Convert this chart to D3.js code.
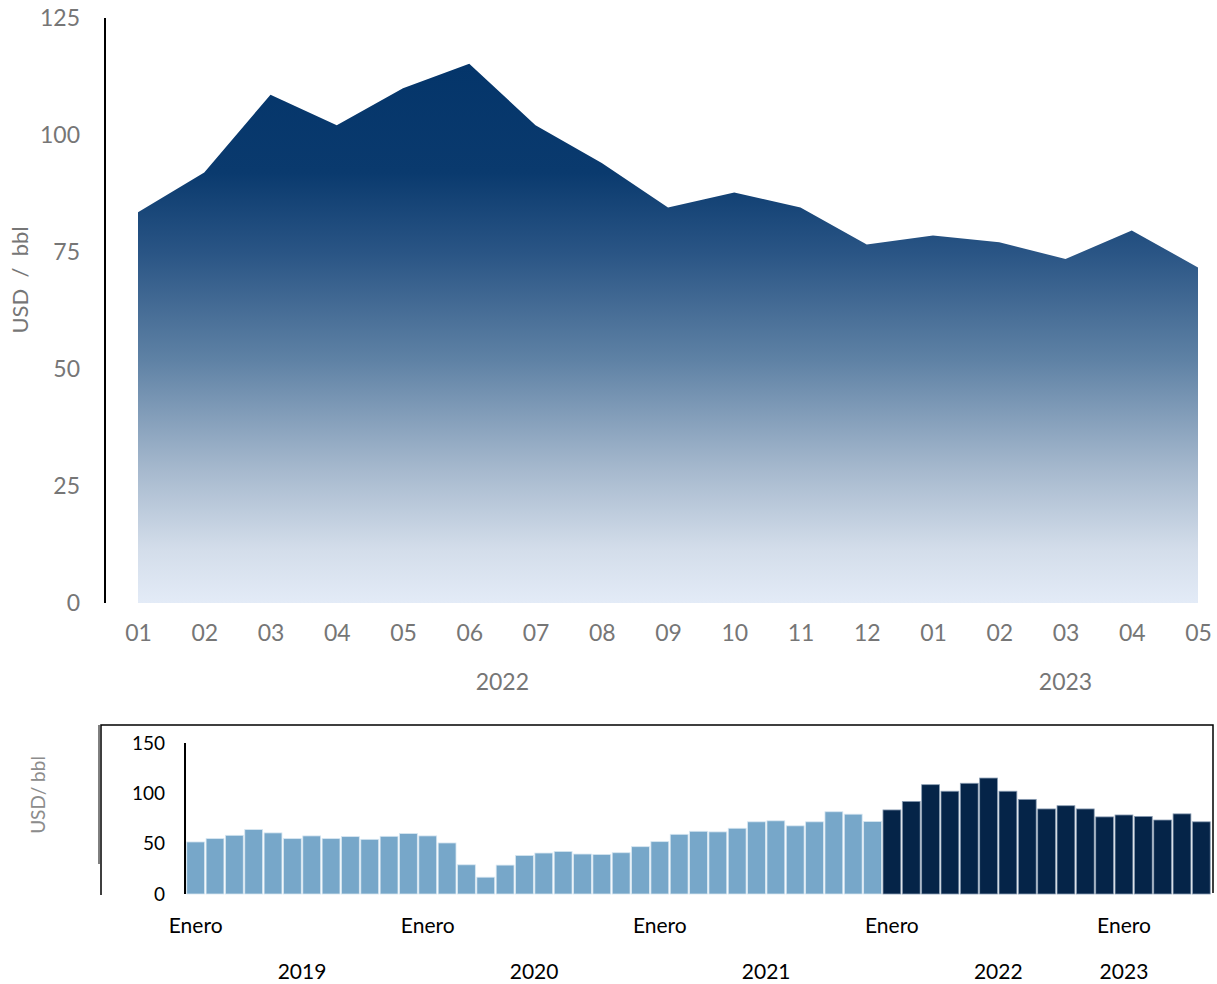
<!DOCTYPE html>
<html>
<head>
<meta charset="utf-8">
<script src="https://cdn.jsdelivr.net/npm/d3@7"></script>
<style>
  html, body { margin: 0; padding: 0; background: #fff; }
  svg { display: block; font-family: Lato, "Open Sans", sans-serif; }
</style>
</head>
<body>
<svg id="chart" width="1217" height="984"></svg>
<script>
// Monthly crude price, USD/bbl, Jan 2019 – May 2023
const months2019 = [51.7, 55.0, 58.3, 64.0, 60.7, 55.0, 57.7, 55.0, 57.0, 54.3, 57.3, 60.0];
const months2020 = [57.7, 50.7, 29.0, 16.7, 28.7, 38.3, 40.7, 42.3, 39.7, 39.3, 41.0, 47.0];
const months2021 = [52.0, 59.3, 62.3, 61.7, 65.3, 71.7, 72.7, 67.7, 71.7, 81.7, 79.3, 72.0];
const months2022 = [83.5, 92.0, 108.6, 102.1, 110.0, 115.2, 102.1, 94.0, 84.5, 87.7, 84.5, 76.6];
const months2023 = [78.5, 77.1, 73.5, 79.6, 71.7];

const monthLabels = ["01", "02", "03", "04", "05", "06", "07", "08", "09", "10", "11", "12"];
const years = ["2019", "2020", "2021", "2022", "2023"];
const yearSeries = [months2019, months2020, months2021, months2022, months2023];
const topYears = ["2022", "2023"];
const topTicks = [0, 25, 50, 75, 100, 125];
const bottomTicks = [0, 50, 100, 150];
const januaryLabel = "Enero";

const svg = d3.select("#chart");

// ---------- Top: area chart for 2022–2023 ----------
const topData = [];
topYears.forEach(y => {
  const vals = yearSeries[years.indexOf(y)];
  vals.forEach((v, i) => topData.push({ key: y + "-" + monthLabels[i], year: y, label: monthLabels[i], value: v }));
});

const xTop = d3.scalePoint().domain(topData.map(d => d.key)).range([138, 1198]);
const yTop = d3.scaleLinear().domain([0, 125]).range([603, 18]);

const defs = svg.append("defs");
const grad = defs.append("linearGradient")
  .attr("id", "areaFill")
  .attr("gradientUnits", "userSpaceOnUse")
  .attr("x1", 0).attr("x2", 0)
  .attr("y1", yTop(115)).attr("y2", yTop(0));
[
  [0, "#04356a"], [0.2, "#0a3a6e"], [0.35, "#2a5585"], [0.55, "#5f82a5"],
  [0.75, "#a5b8cd"], [0.9, "#d3ddea"], [1, "#e3ebf7"]
].forEach(([o, c]) => grad.append("stop").attr("offset", o).attr("stop-color", c));

const area = d3.area()
  .x(d => xTop(d.key))
  .y0(yTop(0))
  .y1(d => yTop(d.value));

svg.append("path")
  .datum(topData)
  .attr("d", area)
  .attr("fill", "url(#areaFill)");

// y axis
const gyTop = svg.append("g").attr("transform", "translate(105,0)")
  .call(d3.axisLeft(yTop).tickValues(topTicks).tickSize(0).tickPadding(25));
gyTop.select(".domain").attr("stroke", "#000").attr("stroke-width", 2)
  .attr("d", `M0,${yTop(125)}V${yTop(0)}`);
gyTop.selectAll("text").attr("font-size", 23).attr("fill", "#767676")
  .attr("font-family", "Lato, sans-serif");

// x axis month labels
const gxTop = svg.append("g").attr("transform", `translate(0,${yTop(0)})`)
  .call(d3.axisBottom(xTop).tickSize(0).tickPadding(22).tickFormat(k => k.slice(5)));
gxTop.select(".domain").remove();
gxTop.selectAll("text").attr("font-size", 23).attr("fill", "#767676")
  .attr("font-family", "Lato, sans-serif");

// year labels under the months
topYears.forEach(y => {
  const keys = topData.filter(d => d.year === y).map(d => xTop(d.key));
  svg.append("text")
    .attr("x", (d3.min(keys) + d3.max(keys)) / 2)
    .attr("y", 690)
    .attr("text-anchor", "middle")
    .attr("font-size", 23).attr("fill", "#767676")
    .text(y);
});

svg.append("text")
  .attr("transform", "translate(28,280) rotate(-90)")
  .attr("text-anchor", "middle")
  .attr("font-size", 22).attr("fill", "#767676")
  .attr("xml:space", "preserve")
  .text("USD  /  bbl");

// ---------- Bottom: monthly bars 2019–2023 ----------
const allData = [];
years.forEach((y, yi) => {
  yearSeries[yi].forEach((v, i) => allData.push({ key: y + "-" + monthLabels[i], year: y, month: i, value: v }));
});

const xBot = d3.scaleBand().domain(allData.map(d => d.key)).range([186, 1211]).paddingInner(0);
const yBot = d3.scaleLinear().domain([0, 150]).range([894, 743]);

// frame
svg.append("path")
  .attr("d", "M101,895V725H1213V893")
  .attr("fill", "none").attr("stroke", "#000").attr("stroke-width", 1.5);
svg.append("line")
  .attr("x1", 99).attr("x2", 99).attr("y1", 725).attr("y2", 864)
  .attr("stroke", "#000").attr("stroke-width", 1);

const recent = new Set(topYears);
svg.append("g").selectAll("rect")
  .data(allData)
  .join("rect")
  .attr("x", d => xBot(d.key) + 0.75)
  .attr("width", xBot.bandwidth() - 1.5)
  .attr("y", d => yBot(d.value))
  .attr("height", d => yBot(0) - yBot(d.value))
  .attr("fill", d => recent.has(d.year) ? "#052448" : "#77a7c9")
  .attr("stroke", d => recent.has(d.year) ? "#8a9db3" : "#d6e6f1")
  .attr("stroke-width", 0.8);

const gyBot = svg.append("g").attr("transform", "translate(185,0)")
  .call(d3.axisLeft(yBot).tickValues(bottomTicks).tickSize(0).tickPadding(20));
gyBot.select(".domain").attr("stroke", "#000").attr("stroke-width", 2)
  .attr("d", `M0,${yBot(150)}V${yBot(0)}`);
gyBot.selectAll("text").attr("font-size", 19).attr("fill", "#000")
  .attr("font-family", "Lato, sans-serif");

// "Enero" at each January
allData.filter(d => d.month === 0).forEach(d => {
  svg.append("text")
    .attr("x", xBot(d.key) + xBot.bandwidth() / 2)
    .attr("y", 933)
    .attr("text-anchor", "middle")
    .attr("font-size", 21).attr("fill", "#000")
    .text(januaryLabel);
});

// year labels: centred on full years, at January for the partial year
years.forEach((y, yi) => {
  const rows = allData.filter(d => d.year === y);
  const first = xBot(rows[0].key) + xBot.bandwidth() / 2;
  const last = xBot(rows[rows.length - 1].key) + xBot.bandwidth() / 2;
  const cx = rows.length === 12 ? (first + last) / 2 : first;
  svg.append("text")
    .attr("x", cx)
    .attr("y", 979)
    .attr("text-anchor", "middle")
    .attr("font-size", 21).attr("fill", "#000")
    .text(y);
});

svg.append("text")
  .attr("transform", "translate(45,795) rotate(-90)")
  .attr("text-anchor", "middle")
  .attr("font-size", 19).attr("fill", "#8c8c8c")
  .text("USD/ bbl");
</script>
</body>
</html>
